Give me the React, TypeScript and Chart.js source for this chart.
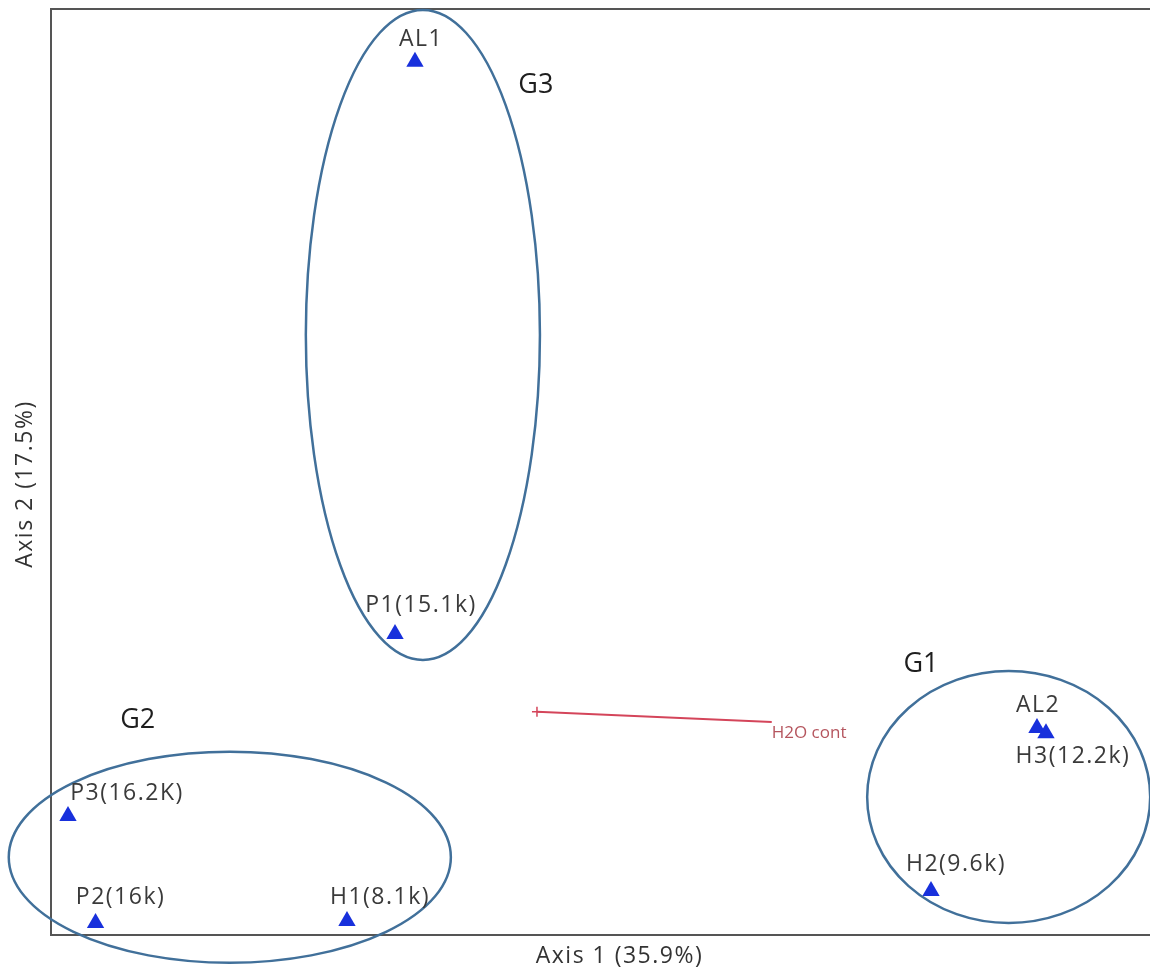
import React, { useEffect, useRef } from "react";
import { Chart, registerables } from "chart.js";

Chart.register(...registerables);

// ---- Data (ordination scores, arbitrary units 0..100 on both axes) ----
const sampleNames = ["AL1", "P1(15.1k)", "P3(16.2K)", "P2(16k)", "H1(8.1k)", "AL2", "H3(12.2k)", "H2(9.6k)"];
const axis1Scores = [33.18, 31.36, 1.55, 4.06, 26.98, 89.88, 90.7, 80.22];
const axis2Scores = [94.3, 32.5, 12.85, 1.3, 1.5, 22.35, 21.8, 4.75];
// label placement offsets (pixels) relative to each point
const labelDx = [6, 26, 59, 25, 33, 1, 27, 25];
const labelDy = [-22, -29, -23, -26, -24, -23, 23, -27];

// Environmental vector (tail -> tip)
const vectorName = "H2O cont";
const vectorX = [65.7, 44.3];
const vectorY = [23.0, 24.1];

// Group ellipses
const groupNames = ["G1", "G2", "G3"];
const groupCx = [87.3, 16.3, 33.9];
const groupCy = [14.9, 8.4, 64.8];
const groupRx = [12.9, 20.15, 10.67];
const groupRy = [13.6, 11.4, 35.1];
const groupLabelX = [79.3, 7.9, 44.2];
const groupLabelY = [29.2, 23.2, 91.8];

const axis1Title = "Axis 1 (35.9%)";
const axis2Title = "Axis 2 (17.5%)";

const overlayPlugin = {
  id: "overlay",
  beforeDatasetsDraw(chart: any) {
    const { ctx, chartArea } = chart;
    ctx.save();
    ctx.strokeStyle = "#555555";
    ctx.lineWidth = 2;
    ctx.beginPath();
    ctx.moveTo(chartArea.right + 2, chartArea.top);
    ctx.lineTo(chartArea.left, chartArea.top);
    ctx.lineTo(chartArea.left, chartArea.bottom);
    ctx.lineTo(chartArea.right + 2, chartArea.bottom);
    ctx.stroke();
    ctx.restore();
  },
  afterDatasetsDraw(chart: any) {
    const { ctx, chartArea } = chart;
    const xs = chart.scales.x;
    const ys = chart.scales.y;
    ctx.save();
    // ellipses
    ctx.strokeStyle = "#41709a";
    ctx.lineWidth = 2.5;
    for (let i = 0; i < groupNames.length; i++) {
      const cx = xs.getPixelForValue(groupCx[i]);
      const cy = ys.getPixelForValue(groupCy[i]);
      const rx = Math.abs(xs.getPixelForValue(groupCx[i] + groupRx[i]) - cx);
      const ry = Math.abs(ys.getPixelForValue(groupCy[i] + groupRy[i]) - cy);
      ctx.beginPath();
      ctx.ellipse(cx, cy, rx, ry, 0, 0, Math.PI * 2);
      ctx.stroke();
    }
    // group labels
    ctx.fillStyle = "#1e1e1e";
    ctx.font = "27px 'Open Sans'";
    ctx.textAlign = "center";
    ctx.textBaseline = "middle";
    for (let i = 0; i < groupNames.length; i++) {
      ctx.fillText(groupNames[i], xs.getPixelForValue(groupLabelX[i]), ys.getPixelForValue(groupLabelY[i]));
    }
    // point labels
    const meta = chart.getDatasetMeta(0);
    ctx.fillStyle = "#3a3a3a";
    ctx.font = "23px 'Open Sans'";
    try { (ctx as any).letterSpacing = "1.5px"; } catch (e) {}
    meta.data.forEach((el: any, i: number) => {
      ctx.fillText(sampleNames[i], el.x + labelDx[i], el.y + labelDy[i]);
    });
    try { (ctx as any).letterSpacing = "0px"; } catch (e) {}
    // vector label
    const vmeta = chart.getDatasetMeta(1);
    const tail = vmeta.data[0];
    ctx.fillStyle = "#b5555e";
    ctx.font = "17px 'Open Sans'";
    ctx.textAlign = "left";
    ctx.fillText(vectorName, tail.x, tail.y + 11);
    // axis titles
    ctx.fillStyle = "#333333";
    ctx.font = "23px 'Open Sans'";
    try { (ctx as any).letterSpacing = "1.5px"; } catch (e) {}
    ctx.textAlign = "center";
    ctx.fillText(axis1Title, (chartArea.left + chartArea.right) / 2 + 20, chartArea.bottom + 21);
    ctx.translate(25, (chartArea.top + chartArea.bottom) / 2 + 12);
    ctx.rotate(-Math.PI / 2);
    ctx.fillText(axis2Title, 0, 0);
    ctx.restore();
  },
};

export default function App() {
  const canvasRef = useRef<HTMLCanvasElement | null>(null);

  useEffect(() => {
    const canvas = canvasRef.current;
    if (!canvas) return;
    const chart = new Chart(canvas, {
      type: "scatter",
      data: {
        datasets: [
          {
            label: "Samples",
            data: axis1Scores.map((x, i) => ({ x, y: axis2Scores[i] })),
            pointStyle: "triangle",
            pointRadius: 10,
            pointHoverRadius: 10,
            backgroundColor: "#1830dc",
            borderColor: "#1830dc",
            borderWidth: 0,
          },
          {
            type: "line",
            label: vectorName,
            data: vectorX.map((x, i) => ({ x, y: vectorY[i] })),
            borderColor: "#d4455a",
            borderWidth: 2,
            pointStyle: "cross",
            pointRadius: (c: any) => (c.dataIndex === 1 ? 5 : 0),
            pointBorderColor: "#d4455a",
            pointBorderWidth: 1.5,
            fill: false,
            tension: 0,
          } as any,
        ],
      },
      options: {
        responsive: false,
        animation: false,
        devicePixelRatio: 1,
        layout: { autoPadding: false, padding: { left: 51, top: 9, right: 2, bottom: 35 } },
        scales: {
          x: { type: "linear", min: 0, max: 100, display: false },
          y: { type: "linear", min: 0, max: 100, display: false },
        },
        plugins: {
          legend: { display: false },
          tooltip: { enabled: false },
        },
      },
      plugins: [overlayPlugin],
    });
    return () => chart.destroy();
  }, []);

  return (
    <div style={{ position: "absolute", left: 0, top: 0, width: 1150, height: 970, background: "#ffffff" }}>
      <canvas ref={canvasRef} width={1150} height={970} style={{ display: "block" }} />
    </div>
  );
}
